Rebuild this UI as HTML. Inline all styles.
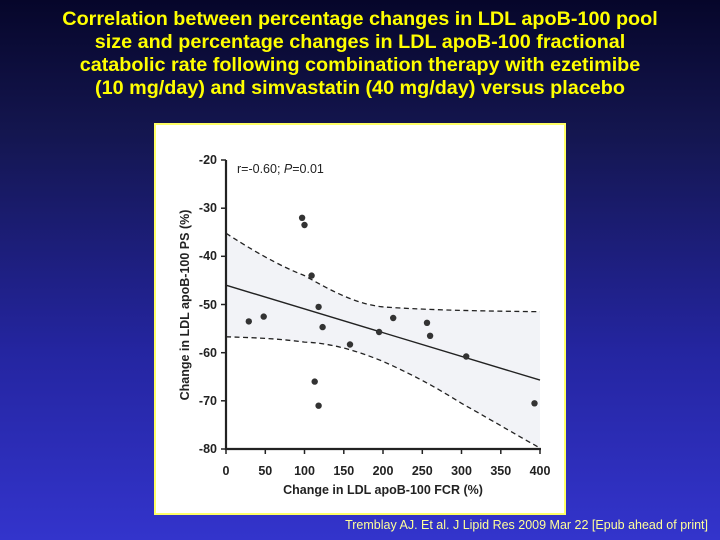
<!DOCTYPE html>
<html><head><meta charset="utf-8"><style>
html,body{margin:0;padding:0}
body{width:720px;height:540px;overflow:hidden;position:relative;background:linear-gradient(to bottom,#06062a 0%,#141650 25%,#2425a0 65%,#3334cc 100%);font-family:"Liberation Sans",sans-serif}
.title{position:absolute;left:0;top:8px;width:720px;text-align:center;color:#ffff00;font-weight:bold;font-size:19.8px;line-height:23px}
.foot{position:absolute;right:12px;top:518px;color:#ffff99;font-size:12.5px}
</style></head><body>
<div class="title">Correlation between percentage changes in LDL apoB-100 pool<br>size and percentage changes in LDL apoB-100 fractional<br>catabolic rate following combination therapy with ezetimibe<br>(10 mg/day) and simvastatin (40 mg/day) versus placebo</div>
<svg width="720" height="540" style="position:absolute;left:0;top:0" font-family="Liberation Sans, sans-serif">
<rect x="155" y="124" width="410" height="390" fill="#fff" stroke="#ffff66" stroke-width="2"/>
<path d="M226,233.2 C265,258.7 290,270 304.5,275.6 C330,290 355,304 383,306.9 C420,309.5 460,310.8 540,311.7 L540,448 C520,437 500,425 461.5,403.3 C440,390 420,378 383,361.4 C355,350 330,343 304.5,342.1 C280,339 265,338 226,336.8 Z" fill="#f2f3f7"/>
<path d="M226,233.2 C265,258.7 290,270 304.5,275.6 C330,290 355,304 383,306.9 C420,309.5 460,310.8 540,311.7" fill="none" stroke="#222" stroke-width="1.3" stroke-dasharray="5,3.5"/>
<path d="M226,336.8 C265,338 280,339 304.5,342.1 C330,343 355,350 383,361.4 C420,378 440,390 461.5,403.3 C500,425 520,437 540,448" fill="none" stroke="#222" stroke-width="1.3" stroke-dasharray="5,3.5"/>
<line x1="226" y1="285.2" x2="540" y2="380.1" stroke="#222" stroke-width="1.4"/>
<g stroke="#222" stroke-width="2.2" fill="none">
<path d="M226,160 V449 H541"/>
</g>
<g stroke="#222" stroke-width="1.5">
<line x1="221" y1="160" x2="226" y2="160"/><line x1="221" y1="208.2" x2="226" y2="208.2"/><line x1="221" y1="256.3" x2="226" y2="256.3"/><line x1="221" y1="304.5" x2="226" y2="304.5"/><line x1="221" y1="352.7" x2="226" y2="352.7"/><line x1="221" y1="400.8" x2="226" y2="400.8"/><line x1="221" y1="449" x2="226" y2="449"/>
<line x1="226" y1="449" x2="226" y2="454"/><line x1="265.3" y1="449" x2="265.3" y2="454"/><line x1="304.5" y1="449" x2="304.5" y2="454"/><line x1="343.8" y1="449" x2="343.8" y2="454"/><line x1="383" y1="449" x2="383" y2="454"/><line x1="422.3" y1="449" x2="422.3" y2="454"/><line x1="461.5" y1="449" x2="461.5" y2="454"/><line x1="500.8" y1="449" x2="500.8" y2="454"/><line x1="540" y1="449" x2="540" y2="454"/>
</g>
<g font-size="12.5" font-weight="bold" fill="#222" text-anchor="end">
<text x="217" y="164">-20</text><text x="217" y="212">-30</text><text x="217" y="260">-40</text><text x="217" y="309">-50</text><text x="217" y="357">-60</text><text x="217" y="405">-70</text><text x="217" y="453">-80</text>
</g>
<g font-size="12.5" font-weight="bold" fill="#222" text-anchor="middle">
<text x="226" y="475">0</text><text x="265.3" y="475">50</text><text x="304.5" y="475">100</text><text x="343.8" y="475">150</text><text x="383" y="475">200</text><text x="422.3" y="475">250</text><text x="461.5" y="475">300</text><text x="500.8" y="475">350</text><text x="540" y="475">400</text>
<text x="383" y="494">Change in LDL apoB-100 FCR (%)</text>
<text transform="translate(189,305) rotate(-90)">Change in LDL apoB-100 PS (%)</text>
</g>
<text x="237" y="173" font-size="12.5" fill="#222">r=-0.60; <tspan font-style="italic">P</tspan>=0.01</text>
<g fill="#333">
<circle cx="248.8" cy="321.4" r="3.2"/><circle cx="263.7" cy="316.6" r="3.2"/><circle cx="302.1" cy="217.8" r="3.2"/><circle cx="304.5" cy="225" r="3.2"/><circle cx="311.6" cy="275.6" r="3.2"/><circle cx="318.6" cy="306.9" r="3.2"/><circle cx="322.6" cy="327.1" r="3.2"/><circle cx="314.7" cy="381.6" r="3.2"/><circle cx="318.6" cy="405.7" r="3.2"/><circle cx="350" cy="344.5" r="3.2"/><circle cx="379.1" cy="332" r="3.2"/><circle cx="393.2" cy="318" r="3.2"/><circle cx="427" cy="322.8" r="3.2"/><circle cx="430.1" cy="335.8" r="3.2"/><circle cx="466.2" cy="356.5" r="3.2"/><circle cx="534.5" cy="403.3" r="3.2"/>
</g>
</svg>
<div class="foot">Tremblay AJ. Et al. J Lipid Res 2009 Mar 22 [Epub ahead of print]</div>
</body></html>
